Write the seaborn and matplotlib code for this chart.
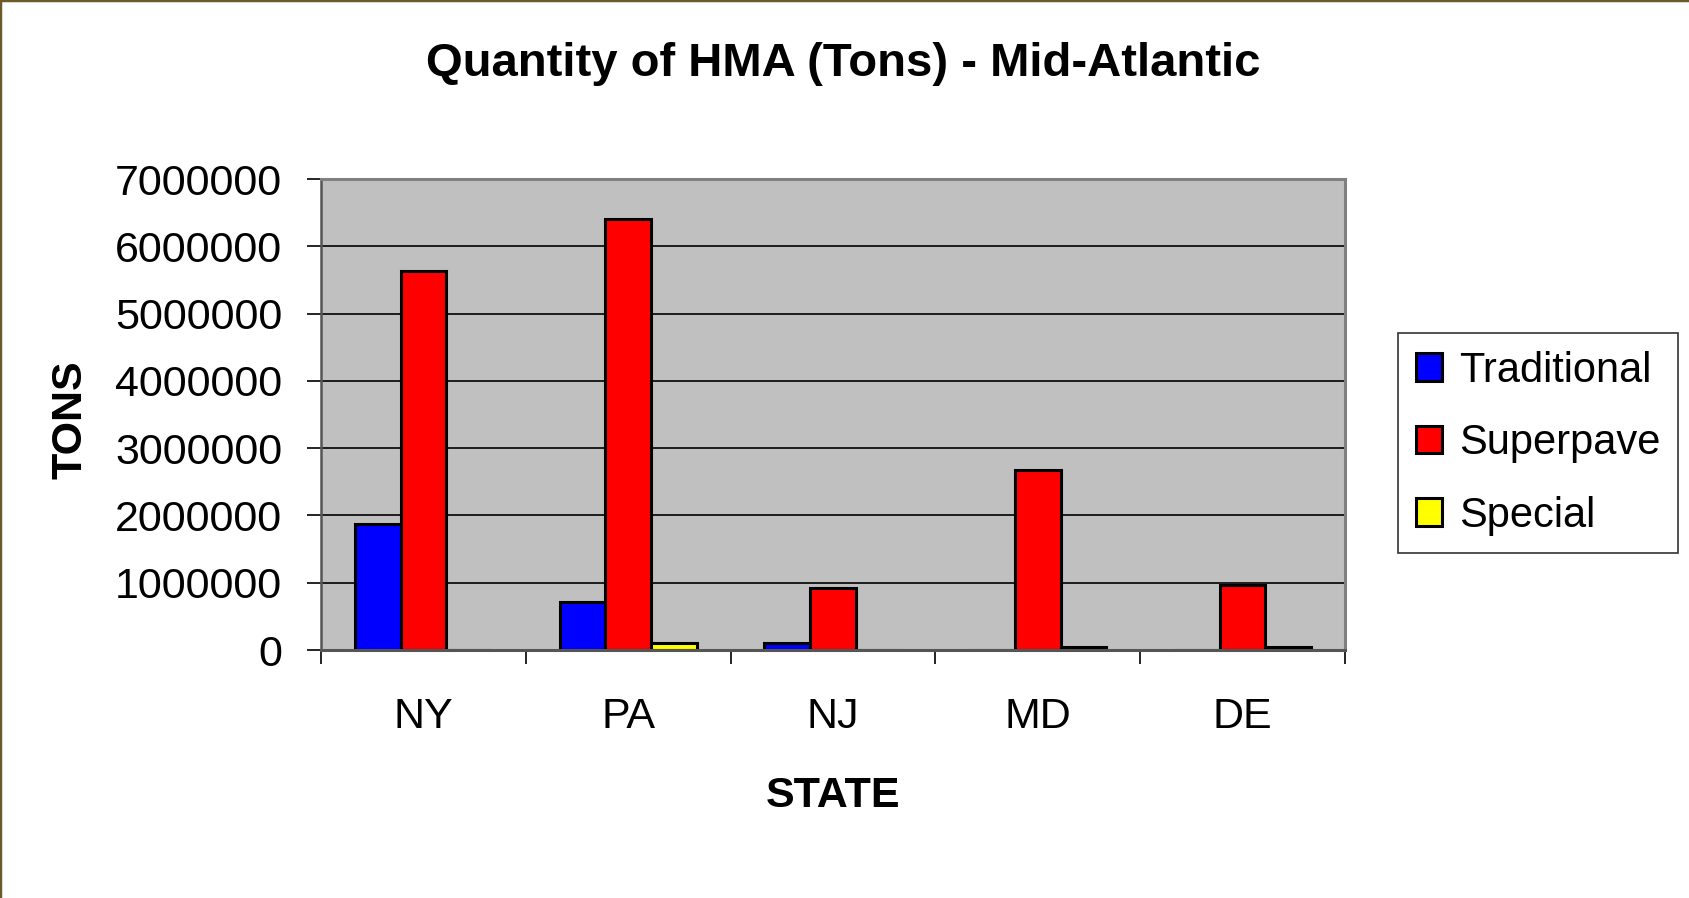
import matplotlib
matplotlib.use("Agg")
import matplotlib.pyplot as plt
from matplotlib.ticker import FuncFormatter, FixedLocator, MultipleLocator
from matplotlib.lines import Line2D
import seaborn as sns
import pandas as pd

states = ["NY", "PA", "NJ", "MD", "DE"]
series = ["Traditional", "Superpave", "Special"]
traditional = [1880000, 710000, 100000, 0, 0]
superpave = [5630000, 6400000, 920000, 2680000, 970000]
special = [0, 100000, 0, 40000, 40000]
colors = ["#0000FF", "#FF0000", "#FFFF00"]

rows = []
for name, vals in zip(series, [traditional, superpave, special]):
    for st, v in zip(states, vals):
        rows.append({"State": st, "Type": name, "Tons": v})
df = pd.DataFrame(rows)

plt.rcParams["font.family"] = ["Liberation Sans", "DejaVu Sans"]

W, H = 1689, 898
fig = plt.figure(figsize=(W / 100, H / 100), dpi=100)
ax = fig.add_axes([321 / W, 1 - 650 / H, 1024 / W, 471 / H])

sns.barplot(data=df, x="State", y="Tons", hue="Type", order=states,
            hue_order=series, palette=colors, width=0.67, dodge=True,
            edgecolor="black", linewidth=2.2, saturation=1, ax=ax,
            errorbar=None)

ax.set_facecolor("#C0C0C0")
ax.set_ylim(0, 7000000)
ax.set_xlim(-0.5, len(states) - 0.5)
ax.yaxis.set_major_locator(MultipleLocator(1000000))
ax.yaxis.set_major_formatter(FuncFormatter(lambda v, p: f"{int(round(v))}"))
ax.grid(axis="y", color="black", linewidth=1.2)
ax.set_axisbelow(True)

# x ticks: labels at centres, marks at boundaries
ax.xaxis.set_minor_locator(FixedLocator([i - 0.5 for i in range(len(states) + 1)]))
ax.tick_params(axis="x", which="major", length=0, pad=34, labelsize=31)
ax.tick_params(axis="x", which="minor", length=10, width=1.2, color="black")
ax.tick_params(axis="y", which="major", length=10, width=1.2, color="black",
               pad=18, labelsize=31)

for s in ["top", "right"]:
    ax.spines[s].set_color("#808080")
    ax.spines[s].set_linewidth(2.2)
ax.spines["left"].set_color("#555555")
ax.spines["left"].set_linewidth(1.8)
ax.spines["bottom"].set_color("#555555")
ax.spines["bottom"].set_linewidth(2.2)

ax.set_xlabel("STATE", fontsize=31, fontweight="bold", va="center")
ax.xaxis.set_label_coords(0.5, -0.31)
ax.set_ylabel("TONS", fontsize=31, fontweight="bold", va="center")
ax.yaxis.set_label_coords(-0.245, 0.49)

handles, labels = ax.get_legend_handles_labels()
if ax.get_legend() is not None:
    ax.get_legend().remove()
leg = fig.legend(handles, labels, loc="upper left",
                 bbox_to_anchor=(1398 / W, 1 - 333 / H), borderaxespad=0,
                 fontsize=30, frameon=True, fancybox=False, edgecolor="black",
                 handlelength=0.64, handleheight=0.64, handletextpad=0.4,
                 labelspacing=0.78, borderpad=0.42)
leg.get_frame().set_linewidth(1.2)
for p in leg.get_patches():
    p.set_edgecolor("black")
    p.set_linewidth(2.2)

fig.text(843 / W, 1 - 64 / H, "Quantity of HMA (Tons) - Mid-Atlantic",
         ha="center", va="center", fontsize=34, fontweight="bold")

# outer frame (top and left)
fig.add_artist(Line2D([0, 0], [0, 1], transform=fig.transFigure,
                      color="#6B5B2B", linewidth=2.5))
fig.add_artist(Line2D([0, 1], [1, 1], transform=fig.transFigure,
                      color="#6B5B2B", linewidth=2.5))

fig.savefig("out.png", dpi=100)
